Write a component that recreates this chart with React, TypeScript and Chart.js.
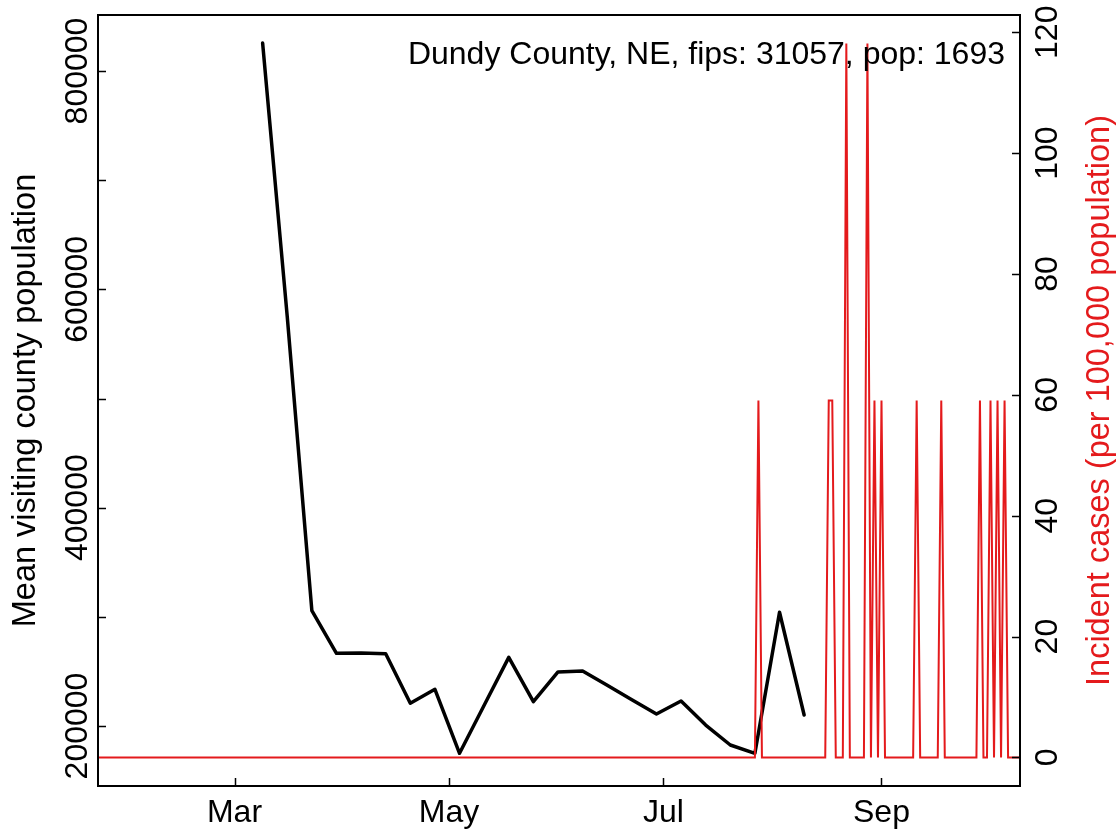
import React, { useEffect, useRef } from "react";
import { Chart, registerables } from "chart.js";

Chart.register(...registerables);

// Weekly mean visiting county population (black line)
const visitDates = [
  "2020-03-09", "2020-03-16", "2020-03-23", "2020-03-30", "2020-04-06", "2020-04-13",
  "2020-04-20", "2020-04-27", "2020-05-04", "2020-05-11", "2020-05-18", "2020-05-25",
  "2020-06-01", "2020-06-08", "2020-06-15", "2020-06-22", "2020-06-29", "2020-07-06",
  "2020-07-13", "2020-07-20", "2020-07-27", "2020-08-03", "2020-08-10",
];
const visitValues = [
  825600, 575000, 305600, 266600, 266900, 266200,
  220800, 233600, 175000, 219000, 262900, 222300,
  249500, 250400, 237300, 224100, 211000, 222900,
  200900, 182600, 175000, 304200, 210100,
];

// Incident cases per 100,000 (red line), listed at the points where it changes
const caseDates = [
  "2020-01-22", "2020-07-27", "2020-07-28", "2020-07-29", "2020-08-16", "2020-08-17",
  "2020-08-18", "2020-08-19", "2020-08-21", "2020-08-22", "2020-08-23", "2020-08-27",
  "2020-08-28", "2020-08-29", "2020-08-30", "2020-08-31", "2020-09-01", "2020-09-02",
  "2020-09-10", "2020-09-11", "2020-09-12", "2020-09-17", "2020-09-18", "2020-09-19",
  "2020-09-28", "2020-09-29", "2020-09-30", "2020-10-01", "2020-10-02", "2020-10-03",
  "2020-10-04", "2020-10-05", "2020-10-06", "2020-10-07", "2020-10-11",
];
const caseValues = [
  0, 0, 59.07, 0, 0, 59.07,
  59.07, 0, 0, 118.13, 0, 0,
  118.13, 0, 59.07, 0, 59.07, 0,
  0, 59.07, 0, 0, 59.07, 0,
  0, 59.07, 0, 0, 59.07, 0,
  59.07, 0, 59.07, 0, 0,
];

const xTickDates = ["2020-03-01", "2020-05-01", "2020-07-01", "2020-09-01"];
const xTickLabels = ["Mar", "May", "Jul", "Sep"];
const leftTicks = [200000, 300000, 400000, 500000, 600000, 700000, 800000];
const leftTickLabels = ["200000", "", "400000", "", "600000", "", "800000"];
const rightTicks = [0, 20, 40, 60, 80, 100, 120];
const rightTickLabels = ["0", "20", "40", "60", "80", "100", "120"];

const titleText = "Dundy County, NE, fips: 31057, pop: 1693";
const leftTitle = "Mean visiting county population";
const rightTitle = "Incident cases (per 100,000 population)";

const ORIGIN = Date.UTC(2020, 2, 1);
const dayOf = (s: string) => (Date.parse(s + "T00:00:00Z") - ORIGIN) / 86400000;

const RED = "#e41a1c";
const FAMILY = '"Liberation Sans", Arial, Helvetica, sans-serif';
const FONT = "32px " + FAMILY;
const TITLE_FONT = "32.5px " + FAMILY;

const axesPlugin = {
  id: "rAxes",
  afterDraw(chart: any) {
    const { ctx, chartArea, scales } = chart;
    const { left, right, top, bottom } = chartArea;
    const xs = scales.x;
    const yl = scales.y;
    const yr = scales.y1;
    ctx.save();
    // box
    ctx.strokeStyle = "#000";
    ctx.lineWidth = 2;
    ctx.strokeRect(left, top, right - left, bottom - top);
    ctx.lineWidth = 1.5;
    const tl = 8;
    ctx.beginPath();
    xTickDates.forEach((d) => {
      const px = Math.round(xs.getPixelForValue(dayOf(d))) + 0.5;
      ctx.moveTo(px, bottom);
      ctx.lineTo(px, bottom - tl);
    });
    leftTicks.forEach((v) => {
      const py = Math.round(yl.getPixelForValue(v)) + 0.5;
      ctx.moveTo(left, py);
      ctx.lineTo(left + tl, py);
    });
    rightTicks.forEach((v) => {
      const py = Math.round(yr.getPixelForValue(v)) + 0.5;
      ctx.moveTo(right, py);
      ctx.lineTo(right - tl, py);
    });
    ctx.stroke();

    ctx.font = FONT;
    ctx.fillStyle = "#000";
    ctx.textBaseline = "alphabetic";
    ctx.textAlign = "center";
    xTickDates.forEach((d, i) => {
      ctx.fillText(xTickLabels[i], xs.getPixelForValue(dayOf(d)), 822);
    });
    leftTicks.forEach((v, i) => {
      if (!leftTickLabels[i]) return;
      ctx.save();
      ctx.translate(87, yl.getPixelForValue(v));
      ctx.rotate(-Math.PI / 2);
      ctx.fillText(leftTickLabels[i], 0, 0);
      ctx.restore();
    });
    rightTicks.forEach((v, i) => {
      ctx.save();
      ctx.translate(1057, yr.getPixelForValue(v));
      ctx.rotate(-Math.PI / 2);
      ctx.fillText(rightTickLabels[i], 0, 0);
      ctx.restore();
    });
    ctx.font = TITLE_FONT;
    ctx.save();
    ctx.translate(35, (top + bottom) / 2);
    ctx.rotate(-Math.PI / 2);
    ctx.fillText(leftTitle, 0, 0);
    ctx.restore();
    ctx.save();
    ctx.fillStyle = RED;
    ctx.translate(1109, (top + bottom) / 2);
    ctx.rotate(-Math.PI / 2);
    ctx.fillText(rightTitle, 0, 0);
    ctx.restore();
    ctx.font = FONT;
    ctx.textAlign = "right";
    ctx.fillStyle = "#000";
    ctx.fillText(titleText, 1005, 64);
    ctx.restore();
  },
};

export default function App() {
  const ref = useRef<HTMLCanvasElement | null>(null);
  useEffect(() => {
    document.body.style.margin = "0";
    const canvas = ref.current;
    if (!canvas) return;
    const chart = new Chart(canvas, {
      type: "line",
      data: {
        datasets: [
          {
            label: "cases",
            data: caseDates.map((d, i) => ({ x: dayOf(d), y: caseValues[i] })),
            borderColor: RED,
            borderWidth: 2,
            pointRadius: 0,
            tension: 0,
            yAxisID: "y1",
            xAxisID: "x",
          },
          {
            label: "visits",
            data: visitDates.map((d, i) => ({ x: dayOf(d), y: visitValues[i] })),
            borderColor: "#000",
            borderWidth: 3.5,
            pointRadius: 0,
            tension: 0,
            borderJoinStyle: "round",
            borderCapStyle: "round",
            yAxisID: "y",
            xAxisID: "x",
          },
        ],
      },
      options: {
        animation: false,
        responsive: false,
        devicePixelRatio: 1,
        layout: { padding: { left: 98, right: 99, top: 15, bottom: 45 } },
        plugins: { legend: { display: false }, tooltip: { enabled: false } },
        events: [],
        scales: {
          x: { type: "linear", min: -38.82, max: 223.39, display: false },
          y: { type: "linear", position: "left", min: 145040, max: 851296, display: false },
          y1: { type: "linear", position: "right", min: -4.725, max: 122.855, display: false },
        },
      },
      plugins: [axesPlugin],
    } as any);
    return () => chart.destroy();
  }, []);
  return <canvas ref={ref} width={1119} height={831} style={{ display: "block" }} />;
}
